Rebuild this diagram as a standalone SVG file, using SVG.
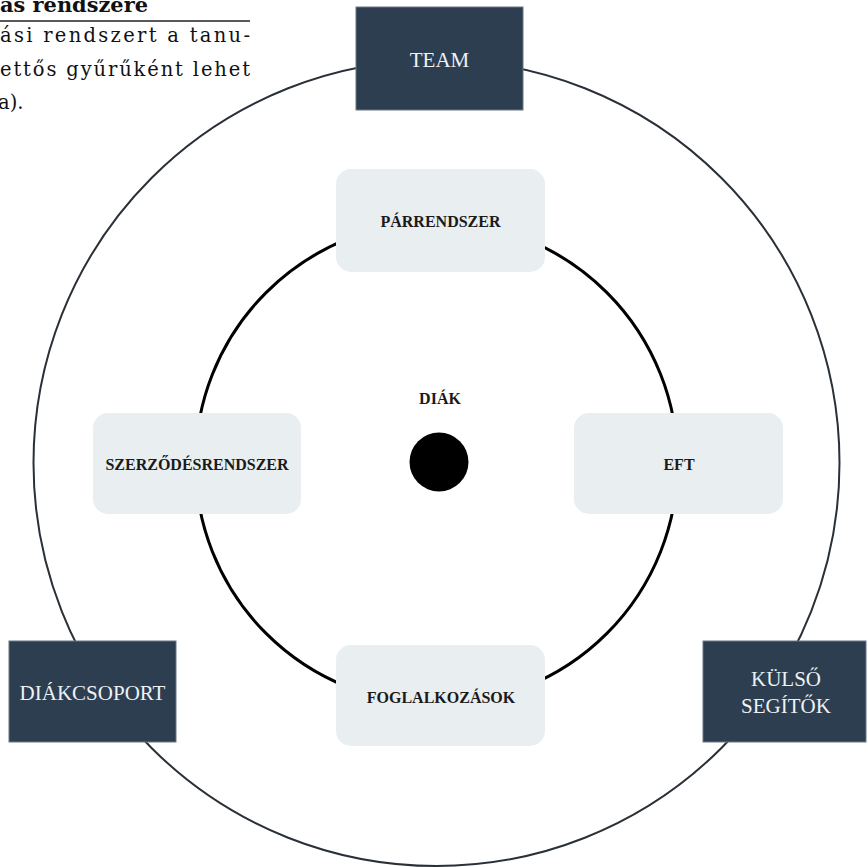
<svg xmlns="http://www.w3.org/2000/svg" width="868" height="867" viewBox="0 0 868 867">
<style>
.dark{fill:#2c3e50;stroke:#6b7785;stroke-width:1}
.light{fill:#e9eef1}
.dt{font-family:"Liberation Serif","DejaVu Serif",serif;font-size:21px;fill:#eef2f5;text-anchor:middle}
.lt{font-family:"Liberation Serif","DejaVu Serif",serif;font-size:16px;font-weight:bold;fill:#1a1a1a;text-anchor:middle}
.body{font-family:"DejaVu Serif","Liberation Serif",serif;font-size:19.5px;fill:#111}
</style>
<rect width="868" height="867" fill="#ffffff"/>
<g id="caption">
<text class="body" x="0" y="12" font-weight="bold" textLength="148" lengthAdjust="spacingAndGlyphs">ás rendszere</text>
<line x1="0" y1="21" x2="250" y2="21" stroke="#222" stroke-width="1.6"/>
<text class="body" x="0" y="42" textLength="250" lengthAdjust="spacing">ási rendszert a tanu-</text>
<text class="body" x="0" y="76" textLength="250" lengthAdjust="spacing">ettős gyűrűként lehet</text>
<text class="body" x="-2" y="109">a).</text>
</g>
<g id="connectors">
<circle cx="436.5" cy="463" r="403" fill="none" stroke="#2a3038" stroke-width="2"/>
<circle cx="436.5" cy="463" r="241" fill="none" stroke="#000" stroke-width="3"/>
</g>
<g id="diak">
<text class="lt" x="440" y="404">DIÁK</text>
<circle cx="439" cy="462" r="29.5" fill="#000"/>
</g>
<g id="team">
<rect class="dark" x="356" y="7" width="167" height="103"/>
<text class="dt" x="439.5" y="67">TEAM</text>
</g>
<g id="diakcsoport">
<rect class="dark" x="9" y="641" width="167" height="101"/>
<text class="dt" x="92.5" y="700">DIÁKCSOPORT</text>
</g>
<g id="kulso-segitok">
<rect class="dark" x="703" y="641" width="163" height="101"/>
<text class="dt" x="786" y="686">KÜLSŐ</text>
<text class="dt" x="786" y="713">SEGÍTŐK</text>
</g>
<g id="parrendszer">
<rect class="light" x="336" y="169" width="209" height="103" rx="15"/>
<text class="lt" x="440.5" y="227">PÁRRENDSZER</text>
</g>
<g id="szerzodesrendszer">
<rect class="light" x="93" y="413" width="208" height="101" rx="15"/>
<text class="lt" x="197" y="470">SZERZŐDÉSRENDSZER</text>
</g>
<g id="eft">
<rect class="light" x="574" y="413" width="209" height="101" rx="15"/>
<text class="lt" x="679" y="470">EFT</text>
</g>
<g id="foglalkozasok">
<rect class="light" x="336" y="645" width="209" height="101" rx="15"/>
<text class="lt" x="441" y="703">FOGLALKOZÁSOK</text>
</g>
</svg>
